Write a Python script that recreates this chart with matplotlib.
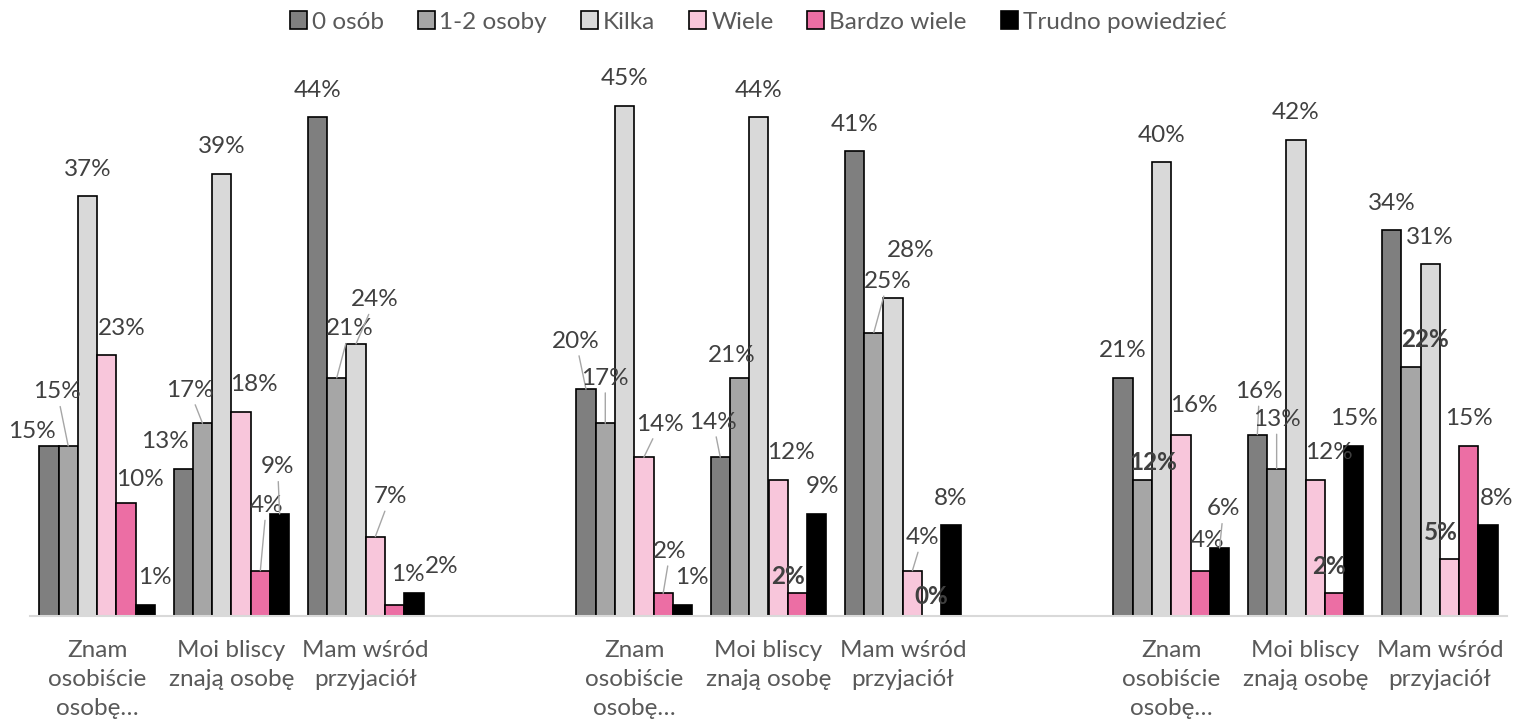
import matplotlib
matplotlib.use("Agg")
import matplotlib.pyplot as plt
from matplotlib.patches import Patch
import numpy as np

plt.rcParams['font.family'] = ['Lato', 'DejaVu Sans']

# categories (empty slots separate the three blocks)
categories = ["Znam\nosobiście\nosobę…", "Moi bliscy\nznają osobę", "Mam wśród\nprzyjaciół",
              "",
              "Znam\nosobiście\nosobę…", "Moi bliscy\nznają osobę", "Mam wśród\nprzyjaciół",
              "",
              "Znam\nosobiście\nosobę…", "Moi bliscy\nznają osobę", "Mam wśród\nprzyjaciół"]
slots = [0, 1, 2, 4, 5, 6, 8, 9, 10]

series_names = ["0 osób", "1-2 osoby", "Kilka", "Wiele", "Bardzo wiele", "Trudno powiedzieć"]
zero_persons = [15, 13, 44, 20, 14, 41, 21, 16, 34]
one_two = [15, 17, 21, 17, 21, 25, 12, 13, 22]
kilka = [37, 39, 24, 45, 44, 28, 40, 42, 31]
wiele = [23, 18, 7, 14, 12, 4, 16, 12, 5]
bardzo_wiele = [10, 4, 1, 2, 2, 0, 4, 2, 15]
trudno = [1, 9, 2, 1, 9, 8, 6, 15, 8]
all_series = [zero_persons, one_two, kilka, wiele, bardzo_wiele, trudno]

colors = ['#7F7F7F', '#A6A6A6', '#D9D9D9', '#F8C6DB', '#EC6EA4', '#000000']

# manual label nudges in pixels: (cluster, series) -> (dx, dy, leader line)
label_nudge = {
    (0, 0): (-17, -13, False), (0, 1): (-11, 27, True), (0, 3): (15, 0, False),
    (0, 4): (14, -4, False), (0, 5): (9, 0, False),
    (1, 0): (-18, 0, False), (1, 1): (-13, 6, True), (1, 3): (13, 0, False),
    (1, 4): (6, 38, True), (1, 5): (-2, 20, True),
    (2, 1): (13, 22, True), (2, 2): (19, 17, True), (2, 3): (15, 13, True),
    (2, 4): (13, 3, False), (2, 5): (28, 0, False),
    (3, 0): (-10, 21, True), (3, 1): (0, 18, True), (3, 3): (16, 6, True),
    (3, 4): (7, 15, True), (3, 5): (9, 0, False),
    (4, 0): (-7, 8, True), (4, 1): (-8, -5, False), (4, 3): (13, 0, False),
    (4, 4): (-9, -10, False), (4, 5): (6, 0, False),
    (5, 1): (14, 24, True), (5, 2): (18, 21, False), (5, 3): (10, 6, True),
    (5, 4): (0, -7, False),
    (6, 1): (11, -10, False), (6, 3): (13, 2, False), (6, 4): (7, 3, False),
    (6, 5): (4, 12, True),
    (7, 0): (2, 16, True), (7, 1): (0, 22, True), (7, 3): (14, 0, False),
    (7, 4): (-6, 0, False),
    (8, 1): (14, 0, False), (8, 3): (-9, 0, False), (8, 5): (9, 0, False),
}
bold_labels = {(4, 4), (5, 4), (6, 1), (7, 4), (8, 1), (8, 3)}

fig = plt.figure(figsize=(15.16, 7.28), dpi=100)
ax = fig.add_axes([30 / 1516, 1 - 616 / 728, 1477 / 1516, 567 / 728])

bar_w = 0.1437
x = np.array(slots, dtype=float)
for i, (vals, col) in enumerate(zip(all_series, colors)):
    xs = x + (i - 2.5) * bar_w
    ax.bar(xs, vals, width=bar_w, color=col, edgecolor='black', linewidth=1.2,
           label=series_names[i], zorder=2)
    for k, (xx, v) in enumerate(zip(xs, vals)):
        dx, dy, leader = label_nudge.get((k, i), (0, 0, False))
        props = None
        if leader:
            props = dict(arrowstyle='-', color='#A6A6A6', lw=1.0, shrinkA=1, shrinkB=0)
        ax.annotate(f"{v}%", xy=(xx, v), xytext=(dx, 27 + dy),
                    textcoords='offset pixels', ha='center', va='center',
                    fontsize=17.5, color='#404040',
                    fontweight='bold' if (k, i) in bold_labels else 'normal',
                    arrowprops=props, zorder=4)

ax.set_xlim(-0.5, 10.5)
ax.set_ylim(0, 50)
ax.set_xticks(range(len(categories)))
ax.set_xticklabels(categories, fontsize=17.5, color='#595959', linespacing=1.48)
ax.tick_params(axis='x', length=0, pad=17)
ax.set_yticks([])
for s in ['top', 'right', 'left']:
    ax.spines[s].set_visible(False)
ax.spines['bottom'].set_color('#D9D9D9')
ax.spines['bottom'].set_linewidth(1.5)

handles = [Patch(facecolor=c, edgecolor='black', linewidth=1.2) for c in colors]
fig.legend(handles, series_names, loc='center', bbox_to_anchor=(0.5, 1 - 22 / 728),
           ncol=6, frameon=False, fontsize=17.5, labelcolor='#595959',
           handlelength=0.7, handleheight=0.7, handletextpad=0.2, columnspacing=1.4)

fig.savefig('out.png', dpi=100)
